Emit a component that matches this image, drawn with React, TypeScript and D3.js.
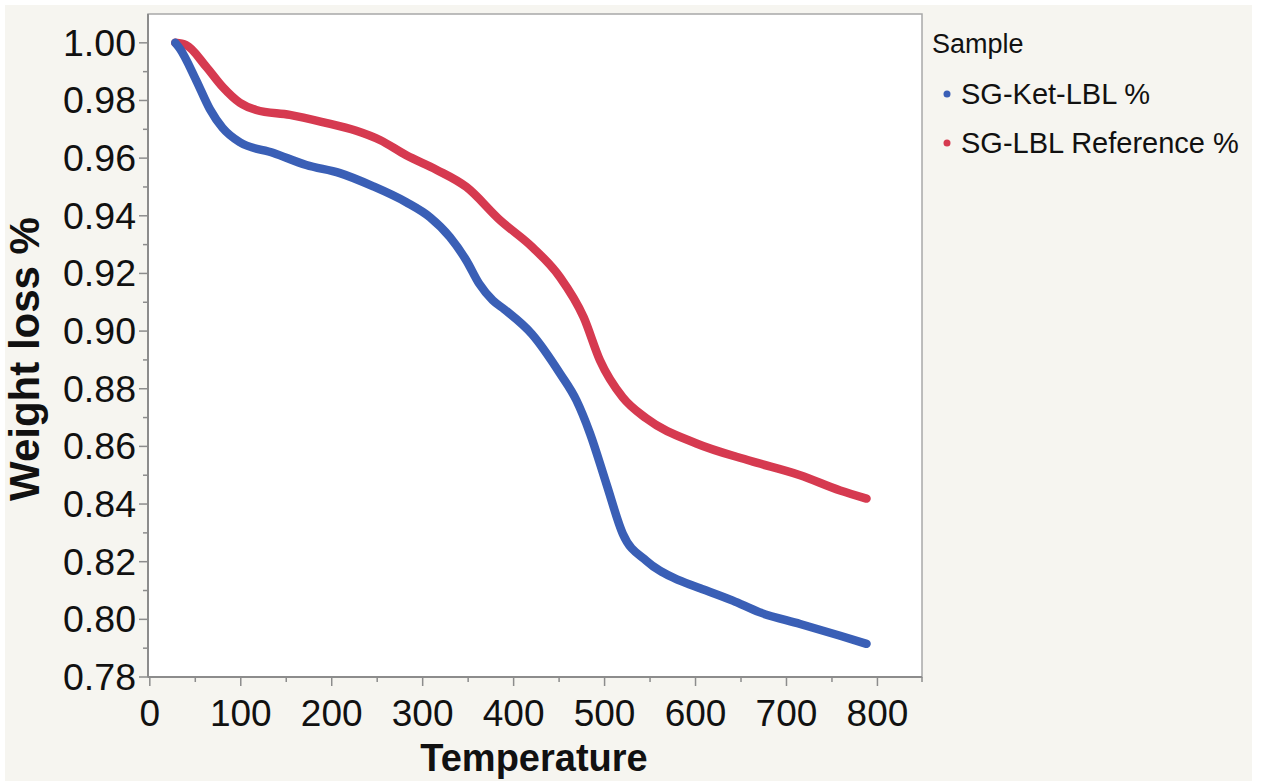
import { useMemo } from 'react'
import * as d3 from 'd3'

// Sample series (temperature in °C, weight fraction)
const ketTemps = [28, 33, 51, 66, 80, 99, 136, 172, 209, 245, 282, 308, 330, 348, 362, 377, 390, 420, 451, 469, 484, 502, 520, 546, 583, 605, 641, 670, 715, 759, 788]
const ketValues = [1.0, 0.998, 0.987, 0.977, 0.9705, 0.9655, 0.9618, 0.9576, 0.9548, 0.9503, 0.9447, 0.9395, 0.9326, 0.9245, 0.9165, 0.9107, 0.9075, 0.899, 0.8853, 0.876, 0.8645, 0.847, 0.8297, 0.8203, 0.8134, 0.8108, 0.8065, 0.8025, 0.7984, 0.7943, 0.7915]

const refTemps = [28, 40, 62, 80, 99, 117, 154, 190, 227, 253, 282, 315, 348, 385, 421, 451, 477, 495, 520, 546, 601, 660, 715, 759, 788]
const refValues = [1.0, 0.9992, 0.9917, 0.9847, 0.9792, 0.9767, 0.975, 0.9725, 0.9695, 0.9663, 0.961, 0.956, 0.95, 0.9385, 0.929, 0.9187, 0.9048, 0.8898, 0.877, 0.8697, 0.861, 0.855, 0.85, 0.8447, 0.8419]

const xTicks = [0, 100, 200, 300, 400, 500, 600, 700, 800]
const yTicks = [0.78, 0.8, 0.82, 0.84, 0.86, 0.88, 0.9, 0.92, 0.94, 0.96, 0.98, 1.0]

const seriesNames = ['SG-Ket-LBL %', 'SG-LBL Reference %']
const seriesColors = ['#3a5fb6', '#d63a50']

const FONT = 'Liberation Sans, Arial, Helvetica, sans-serif'

export default function App() {
  const width = 1261
  const height = 781
  const plot = { left: 148, top: 14, right: 922, bottom: 677 }

  const x = useMemo(() => d3.scaleLinear().domain([-2, 849]).range([plot.left, plot.right]), [])
  const y = useMemo(() => d3.scaleLinear().domain([0.78, 1.01]).range([plot.bottom, plot.top]), [])

  const line = d3.line<[number, number]>()
    .x(d => x(d[0]))
    .y(d => y(d[1]))
    .curve(d3.curveMonotoneX)

  const series = [
    ketTemps.map((t, i) => [t, ketValues[i]] as [number, number]),
    refTemps.map((t, i) => [t, refValues[i]] as [number, number]),
  ]

  const xMinor = d3.range(50, 850, 100)
  const yMinor = d3.range(0.79, 1.0, 0.02)

  return (
    <svg width={width} height={height} style={{ position: 'absolute', left: 0, top: 0 }}>
      <rect x={0} y={0} width={width} height={height} fill="#ffffff" />
      <rect x={5} y={5} width={1247} height={776} fill="#f6f5f0" />

      {/* plot frame */}
      <rect x={plot.left} y={plot.top} width={plot.right - plot.left} height={plot.bottom - plot.top}
        fill="#ffffff" stroke="#a8a8a8" strokeWidth={1.5} />

      {/* curves, red drawn first so blue sits on top at the start */}
      {[1, 0].map(i => (
        <path key={i} d={line(series[i]) || ''} fill="none" stroke={seriesColors[i]}
          strokeWidth={8.5} strokeLinecap="round" strokeLinejoin="round" />
      ))}

      {/* axes lines */}
      <line x1={plot.left} x2={plot.right} y1={plot.bottom} y2={plot.bottom} stroke="#8c8c8c" strokeWidth={2} />
      <line x1={plot.left} x2={plot.left} y1={plot.top} y2={plot.bottom} stroke="#8c8c8c" strokeWidth={2} />

      {/* x ticks */}
      {xTicks.map(t => (
        <g key={t}>
          <line x1={x(t)} x2={x(t)} y1={plot.bottom} y2={plot.bottom + 9} stroke="#8c8c8c" strokeWidth={1.5} />
          <text x={x(t)} y={plot.bottom + 49} textAnchor="middle" fontFamily={FONT} fontSize={37} fill="#111">{t}</text>
        </g>
      ))}
      {xMinor.map(t => (
        <line key={t} x1={x(t)} x2={x(t)} y1={plot.bottom} y2={plot.bottom + 5} stroke="#8c8c8c" strokeWidth={1.5} />
      ))}
      <line x1={plot.right} x2={plot.right} y1={plot.bottom} y2={plot.bottom + 5} stroke="#8c8c8c" strokeWidth={1.5} />

      {/* y ticks */}
      {yTicks.map(t => (
        <g key={t}>
          <line x1={plot.left - 9} x2={plot.left} y1={y(t)} y2={y(t)} stroke="#8c8c8c" strokeWidth={1.5} />
          <text x={plot.left - 12} y={y(t) + 13} textAnchor="end" fontFamily={FONT} fontSize={37.5} fill="#111">{t.toFixed(2)}</text>
        </g>
      ))}
      {yMinor.map(t => (
        <line key={t} x1={plot.left - 5} x2={plot.left} y1={y(t)} y2={y(t)} stroke="#8c8c8c" strokeWidth={1.5} />
      ))}

      {/* axis titles */}
      <text x={534} y={771} textAnchor="middle" fontFamily={FONT} fontWeight="bold" fontSize={38} fill="#111">Temperature</text>
      <text transform="translate(39,359) rotate(-90)" textAnchor="middle" fontFamily={FONT} fontWeight="bold" fontSize={42} fill="#111">Weight loss %</text>

      {/* legend */}
      <text x={932} y={53} fontFamily={FONT} fontSize={27} fill="#111">Sample</text>
      {seriesNames.map((name, i) => (
        <g key={name}>
          <circle cx={947} cy={94 + i * 49} r={3.5} fill={seriesColors[i]} />
          <text x={961} y={104 + i * 49} fontFamily={FONT} fontSize={29} fill="#111">{name}</text>
        </g>
      ))}
    </svg>
  )
}
